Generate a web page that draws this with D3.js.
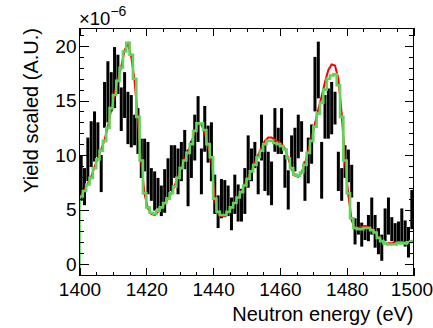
<!DOCTYPE html>
<html>
<head>
<meta charset="utf-8">
<script src="https://cdn.jsdelivr.net/npm/d3@7"></script>
<style>
  body { margin: 0; background: #fff; }
  svg { display: block; }
  text { font-family: "Liberation Sans", Arial, Helvetica, sans-serif; }
</style>
</head>
<body>
<svg width="433" height="328"></svg>
<script>
// 1 eV bins from 1400 to 1500 eV, yields in units of 1e-6
const binStart = 1400;
const binWidth = 1;

const dataYield = [
    7.9, 7.1, 9.6, 11.0, 11.7, 11.4, 8.3, 14.6, 15.8, 15.8,
    17.1, 17.4, 14.2, 15.5, 13.4, 13.1, 12.3, 12.2, 9.7, 10.0,
    8.8, 7.3, 6.7, 6.5, 5.8, 6.7, 7.9, 8.8, 9.4, 8.5,
    9.4, 10.5, 7.9, 9.6, 11.6, 13.3, 8.5, 12.4, 11.0, 10.3,
    6.4, 4.8, 6.0, 6.0, 5.8, 4.6, 6.4, 5.6, 5.4, 6.7,
    9.4, 9.1, 10.0, 7.9, 11.6, 8.8, 8.3, 7.4, 12.3, 11.3,
    12.2, 8.5, 6.8, 10.3, 10.5, 11.7, 11.7, 7.6, 9.5, 11.0,
    16.5, 17.8, 8.6, 13.5, 13.8, 14.3, 14.3, 8.5, 7.3, 9.4,
    9.0, 7.6, 3.0, 4.2, 2.7, 2.8, 3.3, 4.4, 3.0, 2.1,
    1.5, 3.6, 4.4, 3.2, 2.85, 3.0, 3.6, 2.8, 2.0, 5.0
];

const dataError = [
    2.1, 1.7, 2.0, 2.1, 2.3, 1.6, 1.7, 2.1, 2.8, 1.8,
    2.8, 1.8, 2.0, 2.1, 2.4, 2.4, 1.4, 2.1, 1.8, 1.5,
    2.4, 1.5, 1.8, 1.4, 1.4, 2.0, 1.8, 2.1, 1.5, 2.1,
    1.8, 1.8, 2.6, 1.7, 2.1, 2.1, 2.1, 2.1, 1.7, 2.7,
    1.8, 1.5, 1.8, 1.7, 1.4, 1.5, 1.8, 1.7, 1.5, 2.1,
    2.4, 1.5, 1.2, 1.5, 2.1, 2.1, 2.0, 2.0, 2.0, 1.2,
    2.1, 1.5, 1.8, 1.5, 2.0, 2.0, 1.4, 1.8, 2.1, 1.8,
    2.5, 2.6, 2.6, 2.0, 2.3, 2.4, 1.5, 1.8, 1.5, 1.5,
    1.5, 1.5, 1.2, 1.5, 1.1, 0.6, 1.2, 1.7, 1.5, 1.2,
    1.2, 1.5, 1.7, 1.1, 0.9, 0.9, 1.5, 1.2, 1.4, 1.8
];

// fitted curve, evaluated at bin centres
const fitYield = [
    6.3, 6.8, 7.4, 8.0, 8.9, 9.7, 10.5, 11.4, 12.6, 14.2,
    15.6, 16.9, 18.1, 19.6, 20.2, 19.0, 16.8, 13.2, 9.3, 6.4,
    5.1, 4.6, 4.5, 4.8, 5.1, 5.5, 6.0, 6.5, 7.2, 8.0,
    8.9, 9.6, 10.3, 11.1, 12.2, 12.9, 12.8, 12.1, 10.8, 9.5,
    5.9, 4.6, 4.4, 4.4, 4.7, 5.1, 5.6, 6.1, 6.7, 7.3,
    7.9, 8.6, 9.3, 10.0, 10.7, 11.3, 11.6, 11.6, 11.4, 11.2,
    11.0, 10.6, 9.7, 8.7, 8.1, 8.0, 8.4, 9.2, 10.4, 11.6,
    12.9, 14.2, 15.4, 16.7, 17.8, 18.3, 18.2, 17.0, 13.8, 9.4,
    6.3, 4.0, 3.3, 3.3, 3.4, 3.5, 3.4, 3.2, 2.9, 2.4,
    2.1, 1.9, 1.9, 1.9, 2.0, 2.0, 2.0, 2.0, 2.0, 2.1
];

// simulated yield histogram
const simYield = [
    6.2, 6.7, 7.3, 7.9, 8.8, 9.6, 10.4, 11.3, 12.5, 14.3,
    15.5, 16.8, 18.0, 19.5, 20.3, 19.2, 17.0, 13.5, 9.5, 6.5,
    5.2, 4.7, 4.6, 4.9, 5.2, 5.6, 6.0, 6.5, 7.1, 7.9,
    8.8, 9.5, 10.2, 11.0, 12.2, 12.9, 12.9, 12.3, 11.0, 9.8,
    6.0, 4.8, 4.5, 4.5, 4.8, 5.2, 5.6, 6.1, 6.6, 7.2,
    7.8, 8.5, 9.1, 9.8, 10.4, 11.0, 11.3, 11.3, 11.1, 11.0,
    10.8, 10.5, 9.7, 8.8, 8.2, 8.1, 8.4, 9.1, 10.2, 11.3,
    12.6, 13.8, 14.8, 16.0, 17.0, 17.3, 17.4, 16.4, 13.5, 9.5,
    6.5, 4.2, 3.3, 3.2, 3.2, 3.3, 3.3, 3.1, 2.9, 2.4,
    2.1, 1.9, 1.8, 1.8, 1.8, 1.9, 1.9, 1.9, 2.0, 2.1
];

const xMajor = [1400, 1420, 1440, 1460, 1480, 1500];
const yMajor = [0, 5, 10, 15, 20];

const svg = d3.select('svg');
const frameLeft = 79.5, frameRight = 413.5, frameTop = 28, frameBottom = 275.5;

const x = d3.scaleLinear().domain([1400, 1500]).range([frameLeft, frameRight]);
const y = d3.scaleLinear().domain([-1.05, 21.65]).range([frameBottom, frameTop]);

const xMinor = d3.range(1400, 1501, 5);
const yMinor = d3.range(-1, 22, 1);

svg.append('clipPath').attr('id', 'frame')
    .append('rect')
    .attr('x', frameLeft).attr('y', frameTop)
    .attr('width', frameRight - frameLeft).attr('height', frameBottom - frameTop);

const plot = svg.append('g').attr('clip-path', 'url(#frame)');

// data with error bars
plot.append('g').selectAll('rect')
    .data(dataYield)
    .join('rect')
    .attr('x', (d, i) => x(binStart + (i + 0.5) * binWidth) - 1.5)
    .attr('width', 3)
    .attr('y', (d, i) => y(d + dataError[i]))
    .attr('height', (d, i) => y(d - dataError[i]) - y(d + dataError[i]))
    .attr('fill', '#000');

// fit
plot.append('path')
    .datum(fitYield)
    .attr('fill', 'none')
    .attr('stroke', '#ff0000')
    .attr('stroke-width', 2)
    .attr('d', d3.line()
        .x((d, i) => x(binStart + (i + 0.5) * binWidth))
        .y(d => y(d)));

// simulation, drawn as a histogram
const simPoints = [[binStart, y.domain()[0]]]
    .concat(simYield.map((d, i) => [binStart + i * binWidth, d]))
    .concat([[binStart + simYield.length * binWidth, simYield[simYield.length - 1]]]);

plot.append('path')
    .datum(simPoints)
    .attr('fill', 'none')
    .attr('stroke', '#5fd35a')
    .attr('stroke-width', 2.6)
    .attr('d', d3.line()
        .curve(d3.curveStepAfter)
        .x(d => x(d[0]))
        .y(d => y(d[1])));

const font = '"Liberation Sans", Arial, Helvetica, sans-serif';

const styleAxis = (g) => {
    g.select('.domain').remove();
    g.selectAll('line').attr('stroke', '#000').attr('shape-rendering', 'crispEdges');
    g.selectAll('text').attr('fill', '#000');
    g.attr('font-size', 19).attr('font-family', font);
};

// bottom axis
svg.append('g').attr('transform', `translate(0,${frameBottom})`)
    .call(d3.axisBottom(x).tickValues(xMinor).tickSize(-4).tickFormat(''))
    .call(styleAxis);
svg.append('g').attr('transform', `translate(0,${frameBottom})`)
    .call(d3.axisBottom(x).tickValues(xMajor).tickSize(-8).tickPadding(7).tickFormat(d3.format('d')))
    .call(styleAxis)
    .selectAll('text')
    .filter(d => d === 1500)
    .attr('dx', -2);

// top axis
svg.append('g').attr('transform', `translate(0,${frameTop})`)
    .call(d3.axisTop(x).tickValues(xMinor).tickSize(-4).tickFormat(''))
    .call(styleAxis);
svg.append('g').attr('transform', `translate(0,${frameTop})`)
    .call(d3.axisTop(x).tickValues(xMajor).tickSize(-8).tickFormat(''))
    .call(styleAxis);

// left axis
svg.append('g').attr('transform', `translate(${frameLeft},0)`)
    .call(d3.axisLeft(y).tickValues(yMinor).tickSize(-4.5).tickFormat(''))
    .call(styleAxis);
svg.append('g').attr('transform', `translate(${frameLeft},0)`)
    .call(d3.axisLeft(y).tickValues(yMajor).tickSize(-9).tickPadding(3).tickFormat(d3.format('d')))
    .call(styleAxis);

// right axis
svg.append('g').attr('transform', `translate(${frameRight},0)`)
    .call(d3.axisRight(y).tickValues(yMinor).tickSize(-4.5).tickFormat(''))
    .call(styleAxis);
svg.append('g').attr('transform', `translate(${frameRight},0)`)
    .call(d3.axisRight(y).tickValues(yMajor).tickSize(-9).tickFormat(''))
    .call(styleAxis);

// frame
svg.append('rect')
    .attr('x', frameLeft).attr('y', frameTop)
    .attr('width', frameRight - frameLeft).attr('height', frameBottom - frameTop)
    .attr('fill', 'none')
    .attr('stroke', '#000')
    .attr('shape-rendering', 'crispEdges');

// titles
svg.append('text')
    .attr('x', frameRight).attr('y', 321)
    .attr('text-anchor', 'end')
    .attr('font-size', 20)
    .text('Neutron energy (eV)');

svg.append('text')
    .attr('transform', `translate(37.5,${frameTop}) rotate(-90)`)
    .attr('text-anchor', 'end')
    .attr('font-size', 20)
    .text('Yield scaled (A.U.)');

// exponent label
const expo = svg.append('text').attr('x', 79).attr('y', 25).attr('font-size', 18.5);
expo.append('tspan').text('\u00d710');
expo.append('tspan').attr('font-size', 14).attr('dy', -9).text('\u22126');
</script>
</body>
</html>
